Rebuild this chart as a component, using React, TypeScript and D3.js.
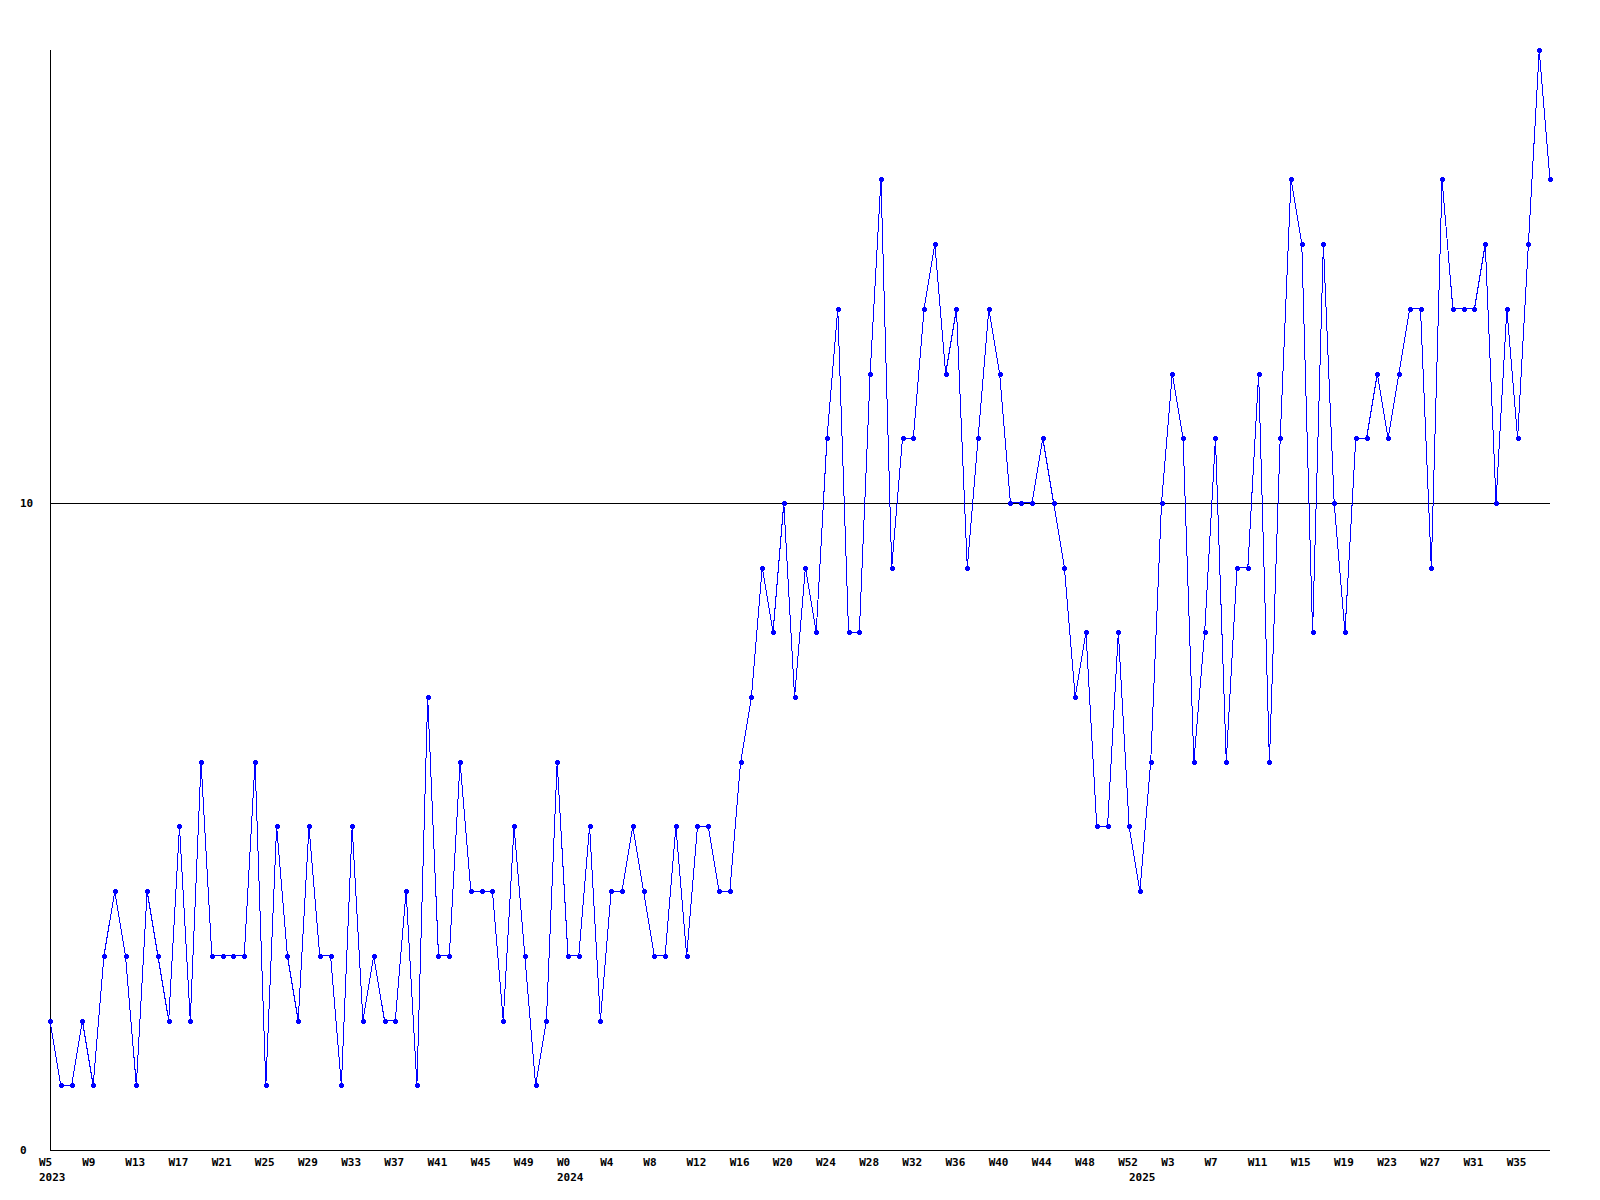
import React from "react";
import * as d3 from "d3";

// Categories: week labels per year
const years2023Weeks = d3.range(5, 53); // W5..W52
const years2024Weeks = d3.range(0, 53); // W0..W52
const years2025Weeks = d3.range(0, 39); // W0..W38

const categories: string[] = [
  ...years2023Weeks.map((w) => `2023-W${w}`),
  ...years2024Weeks.map((w) => `2024-W${w}`),
  ...years2025Weeks.map((w) => `2025-W${w}`),
];

const values: number[] = [
  2, 1, 1, 2, 1, 3, 4, 3, 1, 4, 3, 2, 5, 2, 6, 3, 3, 3, 3, 6,
  1, 5, 3, 2, 5, 3, 3, 1, 5, 2, 3, 2, 2, 4, 1, 7, 3, 3, 6, 4,
  4, 4, 2, 5, 3, 1, 2, 6, 3, 3, 5, 2, 4, 4, 5, 4, 3, 3, 5, 3,
  5, 5, 4, 4, 6, 7, 9, 8, 10, 7, 9, 8, 11, 13, 8, 8, 12, 15, 9, 11,
  11, 13, 14, 12, 13, 9, 11, 13, 12, 10, 10, 10, 11, 10, 9, 7, 8, 5, 5, 8,
  5, 4, 6, 10, 12, 11, 6, 8, 11, 6, 9, 9, 12, 6, 11, 15, 14, 8, 14, 10,
  8, 11, 11, 12, 11, 12, 13, 13, 9, 15, 13, 13, 13, 14, 10, 13, 11, 14, 17, 15,
];

const yTicks = [0, 10];
const yGridLines = [10];
const yearLabels = [
  { cat: "2023-W5", label: "2023" },
  { cat: "2024-W0", label: "2024" },
  { cat: "2025-W0", label: "2025" },
];
const tickEvery = 4;

export default function App() {
  const W = 1600;
  const H = 1200;
  const left = 50;
  const right = 1550;
  const top = 50;
  const bottom = 1150;

  const x = d3.scalePoint<string>().domain(categories).range([left, right]);
  const y = d3.scaleLinear().domain([0, 17]).range([bottom, top]);

  const line = d3
    .line<number>()
    .x((_, i) => x(categories[i]) as number)
    .y((d) => y(d));

  const font = "'DejaVu Sans Mono', monospace";
  const tickCats = categories.filter((_, i) => i % tickEvery === 0);

  return (
    <svg
      width={W}
      height={H}
      style={{ position: "absolute", left: 0, top: 0, background: "#fff" }}
    >
      <rect x={0} y={0} width={W} height={H} fill="#fff" />
      {yGridLines.map((v) => (
        <line
          key={v}
          x1={left}
          x2={right}
          y1={Math.round(y(v)) + 0.5}
          y2={Math.round(y(v)) + 0.5}
          stroke="#000"
          strokeWidth={1}
          shapeRendering="crispEdges"
        />
      ))}
      <line x1={left + 0.5} x2={left + 0.5} y1={top} y2={bottom + 0.5} stroke="#000" shapeRendering="crispEdges" />
      <line x1={left} x2={right} y1={bottom + 0.5} y2={bottom + 0.5} stroke="#000" shapeRendering="crispEdges" />
      {yTicks.map((v) => (
        <text
          key={v}
          x={20}
          y={y(v) + 4}
          fontFamily={font}
          fontWeight="bold"
          fontSize={11}
          fill="#000"
        >
          {v}
        </text>
      ))}
      {tickCats.map((c) => (
        <text
          key={c}
          x={(x(c) as number) - 11}
          y={1166}
          fontFamily={font}
          fontWeight="bold"
          fontSize={11}
          fill="#000"
        >
          {c.split("-")[1]}
        </text>
      ))}
      {yearLabels.map((d) => (
        <text
          key={d.label}
          x={(x(d.cat) as number) - 11}
          y={1181}
          fontFamily={font}
          fontWeight="bold"
          fontSize={11}
          fill="#000"
        >
          {d.label}
        </text>
      ))}
      <path
        d={line(values) || ""}
        fill="none"
        stroke="#0000ff"
        strokeWidth={1}
        shapeRendering="crispEdges"
      />
      {values.map((v, i) => {
        const cx = Math.round(x(categories[i]) as number);
        const cy = Math.round(y(v));
        return (
          <g key={i} fill="#0000ff" shapeRendering="crispEdges">
            <rect x={cx - 2} y={cy - 1} width={5} height={3} />
            <rect x={cx - 1} y={cy - 2} width={3} height={5} />
          </g>
        );
      })}
    </svg>
  );
}
